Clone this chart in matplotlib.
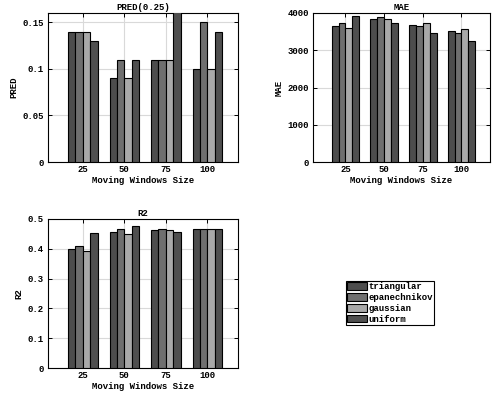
import matplotlib
matplotlib.use("Agg")
import matplotlib.pyplot as plt
import numpy as np

plt.rcParams['font.family'] = 'Liberation Mono'
plt.rcParams['font.weight'] = 'bold'
plt.rcParams['font.size'] = 6.5

windows = [25, 50, 75, 100]
kernels = ['triangular', 'epanechnikov', 'gaussian', 'uniform']
colors = ['#4d4d4d', '#6f6f6f', '#a9a9a9', '#4f4f4f']

# rows: window size, columns: kernel
pred = [[0.14, 0.14, 0.14, 0.13],
        [0.09, 0.11, 0.09, 0.11],
        [0.11, 0.11, 0.11, 0.17],
        [0.10, 0.15, 0.10, 0.14]]
mae = [[3640, 3730, 3610, 3910],
       [3830, 3880, 3840, 3720],
       [3680, 3650, 3730, 3460],
       [3520, 3450, 3580, 3240]]
r2 = [[0.399, 0.408, 0.391, 0.452],
      [0.457, 0.465, 0.450, 0.476],
      [0.464, 0.467, 0.464, 0.457],
      [0.465, 0.465, 0.467, 0.465]]

W, H = 498, 394
fig = plt.figure(figsize=(W / 100, H / 100), dpi=100)

def px_axes(l, t, r, b):
    return fig.add_axes([l / W, 1 - b / H, (r - l) / W, (b - t) / H])

def bars(ax, data, title, ylabel, ylim, yticks, yticklabels):
    data = np.array(data)
    bw = 4.45
    bars_out = []
    for k in range(4):
        x = np.array(windows) + (k - 1.5) * bw
        b = ax.bar(x, data[:, k], width=bw, color=colors[k], edgecolor='black',
                   linewidth=0.8, zorder=3, label=kernels[k])
        bars_out.append(b)
    ax.set_xlim(4, 118.5)
    ax.set_ylim(*ylim)
    ax.set_xticks(windows)
    ax.set_yticks(yticks)
    ax.set_yticklabels(yticklabels)
    ax.grid(True, color='#d9d9d9', linewidth=0.8, zorder=0)
    ax.tick_params(direction='in', top=True, right=True, length=3, width=0.7)
    ax.tick_params(axis='x', pad=2.5)
    ax.tick_params(axis='y', pad=3)
    for s in ax.spines.values():
        s.set_linewidth(0.8)
    ax.set_title(title, fontsize=6.5, fontweight='bold', pad=2)
    ax.set_xlabel('Moving Windows Size', fontweight='bold', labelpad=1)
    ax.set_ylabel(ylabel, fontweight='bold', labelpad=3)
    return bars_out

ax1 = px_axes(48, 13, 238, 162)
bars(ax1, pred, 'PRED(0.25)', 'PRED', (0, 0.16),
     [0, 0.05, 0.1, 0.15], ['0', '0.05', '0.1', '0.15'])

ax2 = px_axes(313, 13, 490, 162)
bars(ax2, mae, 'MAE', 'MAE', (0, 4000),
     [0, 1000, 2000, 3000, 4000], ['0', '1000', '2000', '3000', '4000'])

ax3 = px_axes(48, 219, 238, 368)
handles = bars(ax3, r2, 'R2', 'R2', (0, 0.5),
               [0, 0.1, 0.2, 0.3, 0.4, 0.5], ['0', '0.1', '0.2', '0.3', '0.4', '0.5'])

leg = fig.legend(handles, kernels, loc='upper left',
                 bbox_to_anchor=(346 / W, 1 - 281 / H), fancybox=False,
                 edgecolor='black', framealpha=1, borderpad=0.15, labelspacing=0.2,
                 handlelength=2.2, handleheight=0.9, handletextpad=0.15,
                 borderaxespad=0)
leg.get_frame().set_linewidth(0.8)

fig.savefig('out.png', dpi=100)
